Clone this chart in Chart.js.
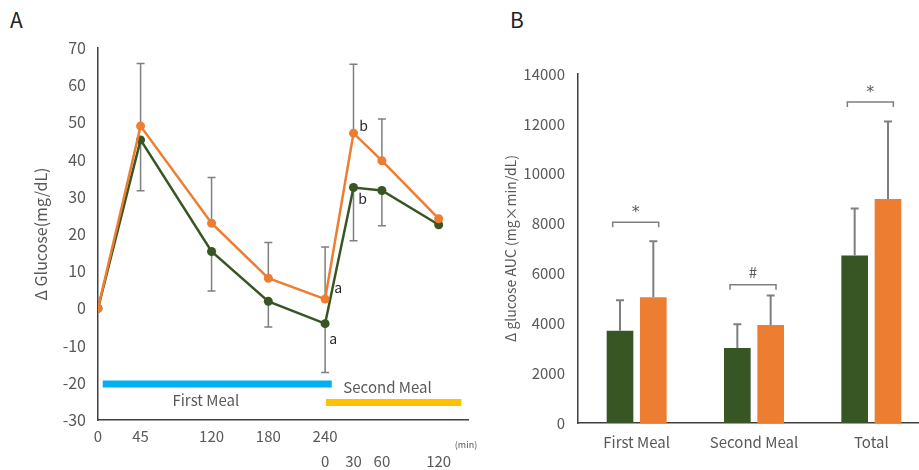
<!DOCTYPE html>
<html lang="ja">
<head>
<meta charset="UTF-8">
<title>Glucose response</title>
<script src="https://cdn.jsdelivr.net/npm/chart.js"></script>
<style>
  html, body { margin: 0; padding: 0; background: #fff; overflow: hidden; }
  body { width: 919px; height: 470px; position: relative; font-family: "Noto Sans CJK JP", "Noto Sans", sans-serif; }
  .panel { position: absolute; top: 0; height: 470px; }
  #wrapA { left: 0; width: 480px; }
  #wrapB { left: 490px; width: 440px; }
  .letter { position: absolute; top: 4px; font-size: 21px; color: #222; }
</style>
</head>
<body>
<div class="letter" style="left:10px">A</div>
<div class="letter" style="left:510px">B</div>
<div class="panel" id="wrapA"><canvas id="chartA"></canvas></div>
<div class="panel" id="wrapB"><canvas id="chartB"></canvas></div>
<script>
// panel A - time course
const minutes = [0, 45, 120, 180, 240, 270, 300, 360];
const firstMealTicks = ['0', '45', '120', '180', '240', '', '', ''];
const secondMealTicks = ['', '', '', '', '0', '30', '60', '120'];
const orangeMeans = [0, 49.0, 22.9, 8.1, 2.5, 47.1, 39.7, 24.1];
const greenMeans = [0, 45.3, 15.3, 1.9, -4.1, 32.5, 31.7, 22.5];
const orangeSD = [0, 16.8, 12.3, 9.6, 14.0, 18.5, 11.2, 0];
const greenSD = [0, 13.7, 10.6, 6.9, 13.1, 14.3, 9.5, 0];
const letterTimes = [240, 240, 270, 270];
const letterSeries = ['orange', 'green', 'orange', 'green'];
const letterTexts = ['a', 'a', 'b', 'b'];
const mealNames = ['First Meal', 'Second Meal'];
const mealStart = [5, 241];
const mealEnd = [247, 384];
const mealLevel = [-20.3, -25.3];

// panel B - AUC
const aucCategories = ['First Meal', 'Second Meal', 'Total'];
const greenAUC = [3700, 3010, 6720];
const orangeAUC = [5040, 3930, 8990];
const greenAUCsd = [1220, 950, 1880];
const orangeAUCsd = [2250, 1180, 3100];
const sigMarks = ['*', '#', '*'];
const sigLevels = [8050, 5550, 12880];

const GREEN = '#375623';
const ORANGE = '#ED7D31';
const GREY = '#7f7f7f';
const TICK = '#595959';
const FONT = '"Noto Sans CJK JP", "Noto Sans", sans-serif';

function capLine(ctx, x, y1, y2, half) {
  ctx.beginPath();
  ctx.moveTo(x, y1); ctx.lineTo(x, y2);
  ctx.moveTo(x - half, y2); ctx.lineTo(x + half, y2);
  ctx.stroke();
}

const timeCourseExtras = {
  id: 'timeCourseExtras',
  beforeDatasetsDraw(chart) {
    const { ctx, scales: { x, y } } = chart;
    ctx.save();
    ctx.strokeStyle = GREY;
    ctx.lineWidth = 1.5;
    minutes.forEach((m, i) => {
      const px = x.getPixelForValue(m);
      if (orangeSD[i] > 0) capLine(ctx, px, y.getPixelForValue(orangeMeans[i]), y.getPixelForValue(orangeMeans[i] + orangeSD[i]), 4);
      if (greenSD[i] > 0) capLine(ctx, px, y.getPixelForValue(greenMeans[i]), y.getPixelForValue(greenMeans[i] - greenSD[i]), 4);
    });
    // meal bars
    const barColors = ['#00B0F0', '#FFC000'];
    ctx.lineWidth = 7;
    ctx.lineCap = 'butt';
    mealNames.forEach((name, i) => {
      const py = y.getPixelForValue(mealLevel[i]);
      ctx.strokeStyle = barColors[i];
      ctx.beginPath();
      ctx.moveTo(x.getPixelForValue(mealStart[i]), py);
      ctx.lineTo(x.getPixelForValue(mealEnd[i]), py);
      ctx.stroke();
    });
    ctx.restore();
  },
  afterDatasetsDraw(chart) {
    const { ctx, scales: { x, y }, chartArea } = chart;
    ctx.save();
    ctx.fillStyle = TICK;
    ctx.font = '15px ' + FONT;
    ctx.textAlign = 'center';
    ctx.textBaseline = 'middle';
    ctx.fillText(mealNames[0], x.getPixelForValue(114), y.getPixelForValue(-24.8));
    ctx.fillText(mealNames[1], x.getPixelForValue(306), y.getPixelForValue(-21.2));
    ctx.font = '9px ' + FONT;
    ctx.fillText('(min)', chartArea.right - 2, chartArea.bottom + 25);
    // significance letters
    ctx.fillStyle = '#262626';
    ctx.font = '14px ' + FONT;
    const offs = [[13, -11], [8, 15], [10, -8], [9, 11]];
    letterTimes.forEach((t, i) => {
      const idx = minutes.indexOf(t);
      const val = letterSeries[i] === 'orange' ? orangeMeans[idx] : greenMeans[idx];
      ctx.fillText(letterTexts[i], x.getPixelForValue(t) + offs[i][0], y.getPixelForValue(val) + offs[i][1]);
    });
    ctx.restore();
  }
};

new Chart(document.getElementById('chartA'), {
  type: 'line',
  data: {
    datasets: [
      {
        data: minutes.map((m, i) => ({ x: m, y: orangeMeans[i] })),
        borderColor: ORANGE, backgroundColor: ORANGE,
        borderWidth: 2.5, pointRadius: 4.5, pointBorderWidth: 0, tension: 0
      },
      {
        data: minutes.map((m, i) => ({ x: m, y: greenMeans[i] })),
        borderColor: GREEN, backgroundColor: GREEN,
        borderWidth: 2.5, pointRadius: 4.5, pointBorderWidth: 0, tension: 0
      }
    ]
  },
  options: {
    responsive: true,
    maintainAspectRatio: false,
    animation: false,
    layout: { padding: { top: 48, right: 12, left: 0, bottom: 0 } },
    plugins: { legend: { display: false }, tooltip: { enabled: false } },
    scales: {
      x: {
        type: 'linear', min: 0, max: 391,
        grid: { display: false, drawTicks: false },
        border: { display: true, color: '#404040', width: 1.5 },
        afterBuildTicks: s => { s.ticks = minutes.map(v => ({ value: v })); },
        afterFit: s => { s.height = 50; },
        ticks: {
          autoSkip: false, maxRotation: 0, padding: 4,
          color: TICK, font: { size: 15, family: FONT, lineHeight: 1.65 },
          callback: (v, i) => [firstMealTicks[i], secondMealTicks[i]]
        }
      },
      y: {
        min: -30, max: 70,
        grid: { display: false, drawTicks: false },
        border: { display: true, color: '#404040', width: 1.5 },
        afterFit: s => { s.width = 98; },
        ticks: { stepSize: 10, padding: 12, color: TICK, font: { size: 16, family: FONT } },
        title: { display: true, text: 'Δ Glucose(mg/dL)', color: TICK, font: { size: 16, family: FONT }, padding: { top: 31, bottom: 0 } }
      }
    }
  },
  plugins: [timeCourseExtras]
});

const aucExtras = {
  id: 'aucExtras',
  afterDatasetsDraw(chart) {
    const { ctx, scales: { y } } = chart;
    const sets = [[greenAUC, greenAUCsd], [orangeAUC, orangeAUCsd]];
    ctx.save();
    ctx.strokeStyle = GREY;
    ctx.lineWidth = 2;
    sets.forEach(([vals, sds], d) => {
      chart.getDatasetMeta(d).data.forEach((bar, i) => {
        capLine(ctx, bar.x, bar.y, y.getPixelForValue(vals[i] + sds[i]), 4);
      });
    });
    // brackets
    ctx.lineWidth = 1.5;
    ctx.fillStyle = TICK;
    ctx.textAlign = 'center';
    ctx.textBaseline = 'middle';
    aucCategories.forEach((c, i) => {
      const g = chart.getDatasetMeta(0).data[i];
      const o = chart.getDatasetMeta(1).data[i];
      const mid = (g.x + o.x) / 2 - 1;
      const left = mid - 23, right = mid + 23;
      const py = y.getPixelForValue(sigLevels[i]);
      ctx.beginPath();
      ctx.moveTo(left, py + 5); ctx.lineTo(left, py); ctx.lineTo(right, py); ctx.lineTo(right, py + 5);
      ctx.stroke();
      const star = sigMarks[i] === '*';
      ctx.font = star ? '16px "DejaVu Sans", sans-serif' : '15px ' + FONT;
      ctx.fillText(sigMarks[i], mid, py - (star ? 9 : 12));
    });
    ctx.restore();
  }
};

new Chart(document.getElementById('chartB'), {
  type: 'bar',
  data: {
    labels: aucCategories,
    datasets: [
      { data: greenAUC, backgroundColor: GREEN, barPercentage: 0.8, categoryPercentage: 0.568 },
      { data: orangeAUC, backgroundColor: ORANGE, barPercentage: 0.8, categoryPercentage: 0.568 }
    ]
  },
  options: {
    responsive: true,
    maintainAspectRatio: false,
    animation: false,
    layout: { padding: { top: 74, right: 0, left: 0, bottom: 0 } },
    plugins: { legend: { display: false }, tooltip: { enabled: false } },
    scales: {
      x: {
        grid: { display: false, drawTicks: false },
        border: { display: true, color: '#404040', width: 1.5 },
        afterFit: s => { s.height = 47; },
        ticks: { padding: 10, color: TICK, font: { size: 15, family: FONT } }
      },
      y: {
        min: 0, max: 14000,
        grid: { display: false, drawTicks: false },
        border: { display: true, color: '#404040', width: 1.5 },
        afterFit: s => { s.width = 88; },
        ticks: { stepSize: 2000, padding: 13, color: TICK, font: { size: 15, family: FONT }, callback: v => String(v) },
        title: { display: true, text: 'Δ glucose AUC (mg×min/dL)', color: TICK, font: { size: 14, family: FONT }, padding: { top: 12, bottom: 0 } }
      }
    }
  },
  plugins: [aucExtras]
});
</script>
</body>
</html>
